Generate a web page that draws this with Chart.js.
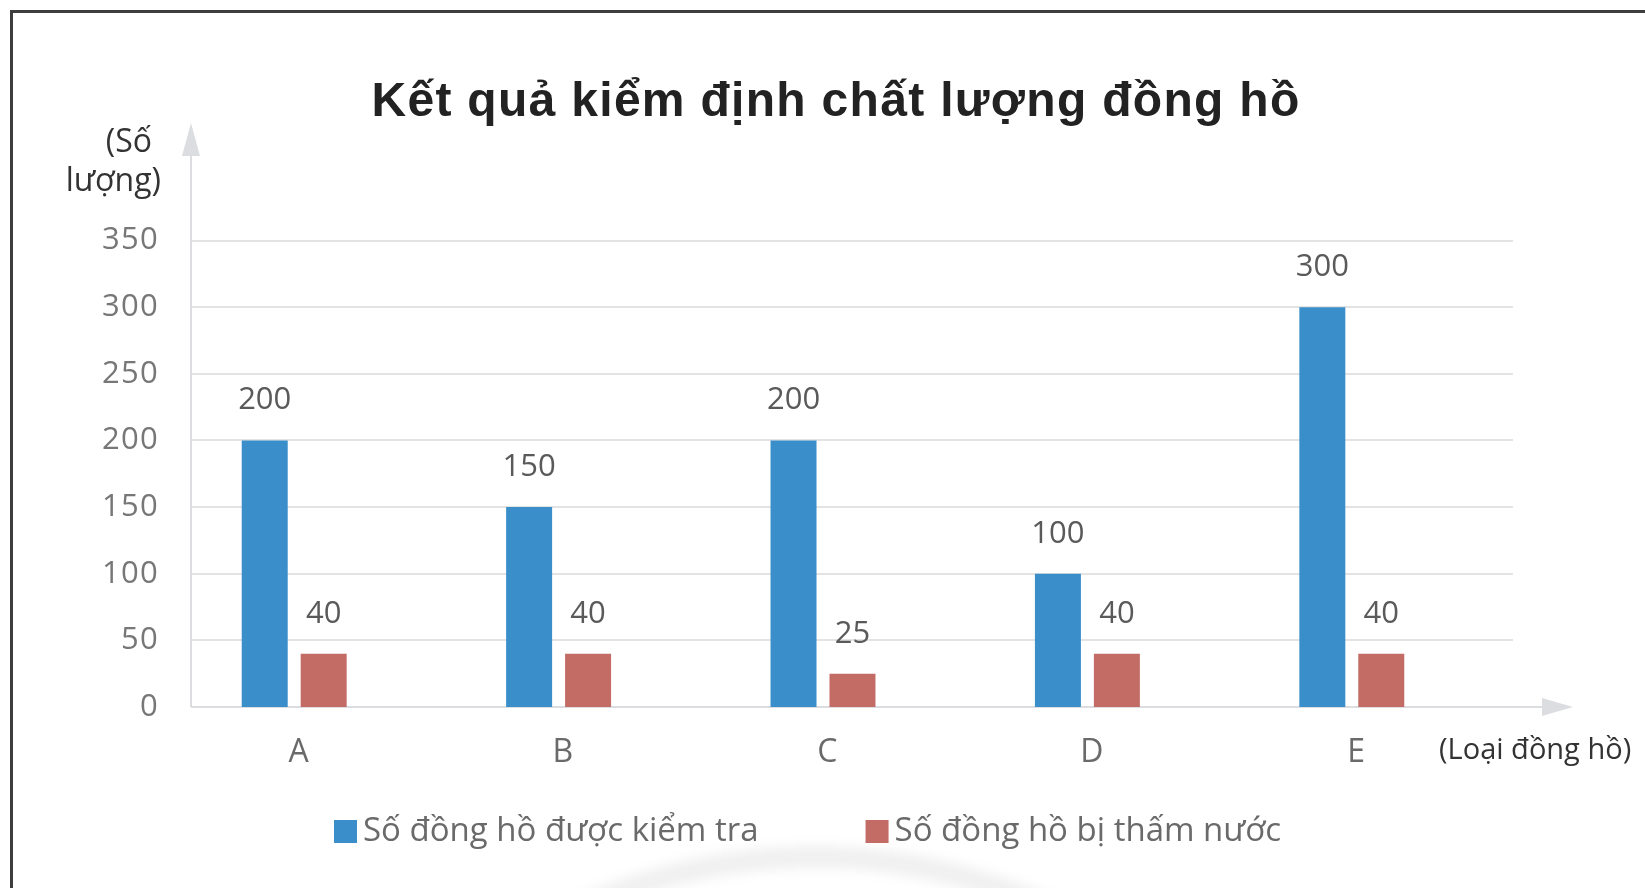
<!DOCTYPE html>
<html lang="vi">
<head>
<meta charset="utf-8">
<title>Kết quả kiểm định chất lượng đồng hồ</title>
<script src="https://cdn.jsdelivr.net/npm/chart.js@4.4.1/dist/chart.umd.min.js"></script>
<style>
  html, body { margin: 0; padding: 0; background: #ffffff; }
  #wrap { position: relative; width: 1645px; height: 888px; overflow: hidden; }
  #frame {
    position: absolute; left: 10px; top: 10px; width: 1700px; height: 1000px;
    border-left: 3px solid #3d3d3d; border-top: 3px solid #3d3d3d;
  }
  #chart { position: absolute; left: 0; top: 0; }
</style>
</head>
<body>
<div id="wrap">
  <div id="frame"></div>
  <canvas id="chart" width="1645" height="888"></canvas>
</div>
<script>
// Watch types and counts per type
const categories = ['A', 'B', 'C', 'D', 'E'];
const inspected = [200, 150, 200, 100, 300];   // Số đồng hồ được kiểm tra
const leaking = [40, 40, 25, 40, 40];           // Số đồng hồ bị thấm nước
const seriesNames = ['Số đồng hồ được kiểm tra', 'Số đồng hồ bị thấm nước'];
const yTicks = [0, 50, 100, 150, 200, 250, 300, 350];

const chartTitle = 'Kết quả kiểm định chất lượng đồng hồ';
const yAxisTitle = ['(Số', 'lượng)'];
const xAxisTitle = '(Loại đồng hồ)';

const BLUE = '#3a8fcb';
const RED = '#c26c65';
const AXIS = '#dcdde0';
const GRID = '#e3e3e3';
const LABEL_FONT = '"Open Sans", "Liberation Sans", sans-serif';

// Title is drawn with a little extra tracking
const titleSpacing = {
  id: 'titleSpacing',
  beforeDraw(chart) { chart.ctx.letterSpacing = '1.3px'; },
  afterDraw(chart) { chart.ctx.letterSpacing = '0px'; }
};

// Light grid, axis arrows, axis captions, value labels and legend
const decorPlugin = {
  id: 'decor',
  beforeDatasetsDraw(chart) {
    const ctx = chart.ctx;
    const y = chart.scales.y;
    const x0 = 191, x1 = 1513;
    ctx.save();
    ctx.letterSpacing = '0px';
    // faint watermark arc near the bottom
    ctx.filter = 'blur(6px)';
    ctx.strokeStyle = 'rgba(0,0,0,0.06)';
    ctx.lineWidth = 22;
    ctx.beginPath();
    ctx.arc(815, 1421, 564, Math.PI * 1.2, Math.PI * 1.8);
    ctx.stroke();
    ctx.filter = 'none';

    // horizontal gridlines from the y scale ticks
    ctx.strokeStyle = GRID;
    ctx.lineWidth = 2;
    yTicks.forEach(v => {
      if (v === 0) return;
      const py = Math.round(y.getPixelForValue(v));
      ctx.beginPath();
      ctx.moveTo(x0, py);
      ctx.lineTo(x1, py);
      ctx.stroke();
    });

    // axes with arrow heads
    const zy = Math.round(y.getPixelForValue(0));
    ctx.strokeStyle = AXIS;
    ctx.fillStyle = AXIS;
    ctx.beginPath();
    ctx.moveTo(x0, zy);
    ctx.lineTo(x0, 150);
    ctx.moveTo(x0, zy);
    ctx.lineTo(1545, zy);
    ctx.stroke();
    ctx.beginPath();
    ctx.moveTo(x0, 123);
    ctx.lineTo(x0 - 9, 156);
    ctx.lineTo(x0 + 9, 156);
    ctx.closePath();
    ctx.fill();
    ctx.beginPath();
    ctx.moveTo(1573, zy);
    ctx.lineTo(1542, zy - 9);
    ctx.lineTo(1542, zy + 9);
    ctx.closePath();
    ctx.fill();
    ctx.restore();
  },
  afterDatasetsDraw(chart) {
    const ctx = chart.ctx;
    ctx.save();
    ctx.letterSpacing = '0px';
    // value labels above each bar
    ctx.font = '31px ' + LABEL_FONT;
    ctx.fillStyle = '#5a5a5a';
    ctx.textAlign = 'center';
    ctx.textBaseline = 'middle';
    chart.data.datasets.forEach((ds, di) => {
      chart.getDatasetMeta(di).data.forEach((bar, i) => {
        ctx.fillText(String(ds.data[i]), bar.x, bar.y - 40);
      });
    });

    // axis captions
    ctx.fillStyle = '#333333';
    ctx.font = '32px ' + LABEL_FONT;
    ctx.textAlign = 'right';
    ctx.fillText(yAxisTitle[0], 152, 143);
    ctx.fillText(yAxisTitle[1], 161, 182);
    ctx.font = '29px ' + LABEL_FONT;
    ctx.textAlign = 'left';
    ctx.fillText(xAxisTitle, 1439, 751);

    // legend
    ctx.font = '33px ' + LABEL_FONT;
    ctx.textBaseline = 'middle';
    let lx = 334;
    const ly = 831;
    chart.data.datasets.forEach(ds => {
      ctx.fillStyle = ds.backgroundColor;
      ctx.fillRect(lx, ly - 11, 23, 23);
      ctx.fillStyle = '#6a6a6a';
      ctx.fillText(ds.label, lx + 29, ly + 1);
      lx += 29 + ctx.measureText(ds.label).width + 107;
    });
    ctx.restore();
  }
};

new Chart(document.getElementById('chart'), {
  type: 'bar',
  data: {
    labels: categories,
    datasets: [
      { label: seriesNames[0], data: inspected, backgroundColor: BLUE,
        categoryPercentage: 0.446, barPercentage: 0.78 },
      { label: seriesNames[1], data: leaking, backgroundColor: RED,
        categoryPercentage: 0.446, barPercentage: 0.78 }
    ]
  },
  options: {
    responsive: false,
    animation: false,
    devicePixelRatio: 1,
    layout: { padding: { left: 27, right: 0, top: 0, bottom: 0 } },
    plugins: {
      legend: { display: false },
      tooltip: { enabled: false },
      title: {
        display: true,
        text: chartTitle,
        color: '#222222',
        font: { family: '"Liberation Sans", Arial, sans-serif', size: 48, weight: 'bold', lineHeight: 1.2 },
        padding: { top: 74, bottom: 109 }
      }
    },
    scales: {
      x: {
        grid: { display: false, drawTicks: false },
        border: { display: false },
        ticks: { color: '#6a6a6a', font: { family: LABEL_FONT, size: 32 }, padding: 27, labelOffset: 5 },
        afterFit(s) { s.height = 181; }
      },
      y: {
        position: 'left',
        min: 0, max: 350,
        grid: { display: false, drawTicks: false },
        border: { display: false },
        ticks: {
          stepSize: 50, color: '#777777', padding: 3,
          font: { family: LABEL_FONT, size: 31 }
        },
        afterFit(s) { s.width = 135; }
      },
      yRight: {
        position: 'right',
        display: true,
        grid: { display: false, drawTicks: false },
        border: { display: false },
        ticks: { display: false },
        afterFit(s) { s.width = 161; }
      }
    }
  },
  plugins: [titleSpacing, decorPlugin]
});
</script>
</body>
</html>
